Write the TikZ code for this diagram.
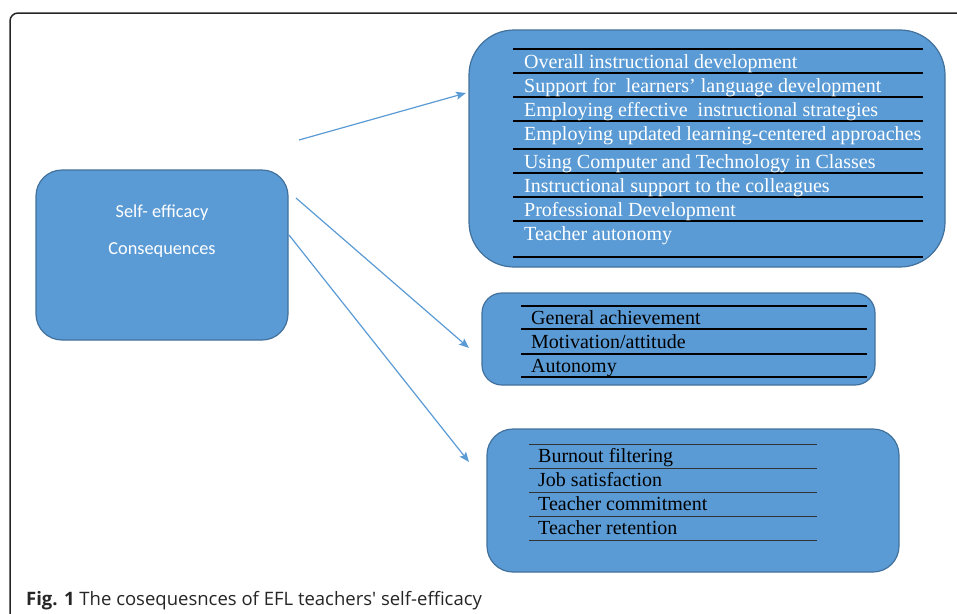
\documentclass[tikz,border=0pt]{standalone}
\usepackage{fontspec}
\setmainfont{Liberation Serif}
\newfontfamily\calib{Carlito}
\newfontfamily\capfont{Open Sans}
\usetikzlibrary{arrows.meta}
\definecolor{boxblue}{HTML}{5B9BD5}
\definecolor{boxedge}{HTML}{41719C}
\definecolor{arrowblue}{HTML}{5B9BD5}
\tikzset{
  bluebox/.style={draw=boxedge, fill=boxblue, line width=1.2pt, inner sep=0pt},
  rowline/.style={draw=black, line width=1.1pt},
  itemw/.style={anchor=base west, inner sep=0pt, text=white, font=\fontsize{20}{22}\selectfont},
  itemb/.style={anchor=base west, inner sep=0pt, text=black, font=\fontsize{20}{22}\selectfont},
  conn/.style={draw=arrowblue, line width=1.2pt, -{Stealth[length=10pt,width=8pt,inset=2pt]}},
}
\begin{document}
\begin{tikzpicture}[x=1pt,y=-1pt]
\useasboundingbox (0,0) rectangle (957,613);
\fill[white] (0,0) rectangle (957,613);
% outer frame
\draw[line width=1.5pt, black!85, rounded corners=8pt] (10,620) -- (10,13) -- (970,13);

% source box
\node[bluebox, rounded corners=26pt, minimum width=252pt, minimum height=170pt] (src) at (162,255) {};
\node[anchor=base, inner sep=0pt, text=white, font=\calib\fontsize{18.3}{20}\selectfont] (srct1) at (162,217) {Self- efficacy};
\node[anchor=base, inner sep=0pt, text=white, font=\calib\fontsize{18.3}{20}\selectfont] (srct2) at (162,254) {Consequences};

% top box
\node[bluebox, rounded corners=45pt, minimum width=476pt, minimum height=237pt] (topbox) at (707,148.5) {};
\foreach \yy in {49,73,97,121,149,173,197,221,257}
  \draw[rowline] (513,\yy) -- (923,\yy);
\node[itemw] (t1) at (524,68) {Overall instructional development};
\node[itemw] (t2) at (524,92) {Support for\ \ learners’ language development};
\node[itemw] (t3) at (524,116) {Employing effective\ \ instructional strategies};
\node[itemw] (t4) at (524,140) {Employing updated learning-centered approaches};
\node[itemw] (t5) at (524,168) {Using Computer and Technology in Classes};
\node[itemw] (t6) at (524,192) {Instructional support to the colleagues};
\node[itemw] (t7) at (524,216) {Professional Development};
\node[itemw] (t8) at (524,240) {Teacher autonomy};

% middle box
\node[bluebox, rounded corners=20pt, minimum width=393pt, minimum height=92pt] (midbox) at (678.5,339) {};
\foreach \yy in {306,329,354,377}
  \draw[rowline] (521,\yy) -- (867,\yy);
\node[itemb] (m1) at (531,324) {General achievement};
\node[itemb] (m2) at (531,348) {Motivation/attitude};
\node[itemb] (m3) at (531,372) {Autonomy};

% bottom box
\node[bluebox, rounded corners=26pt, minimum width=412pt, minimum height=143pt] (botbox) at (693,500.5) {};
\foreach \yy in {444,468,492,516,540}
  \draw[rowline, line width=1pt, draw=black!80] (529,\yy) -- (817,\yy);
\node[itemb] (b1) at (538,462) {Burnout filtering};
\node[itemb] (b2) at (538,486) {Job satisfaction};
\node[itemb] (b3) at (538,510) {Teacher commitment};
\node[itemb] (b4) at (538,534) {Teacher retention};

% connectors
\coordinate (s1) at (299,140);
\coordinate (e1) at (466,93);
\coordinate (s2) at (296,198);
\coordinate (e2) at (469,348);
\coordinate (s3) at (289,235);
\coordinate (e3) at (469,462);
\draw[conn] (s1) -- (e1);
\draw[conn] (s2) -- (e2);
\draw[conn] (s3) -- (e3);

% caption
\node[anchor=base west, inner sep=0pt, font=\capfont\fontsize{18.5}{21}\selectfont, text=black!85] (cap) at (26,605) {\textbf{Fig. 1} The cosequesnces of EFL teachers' self-efficacy};
\end{tikzpicture}
\end{document}
